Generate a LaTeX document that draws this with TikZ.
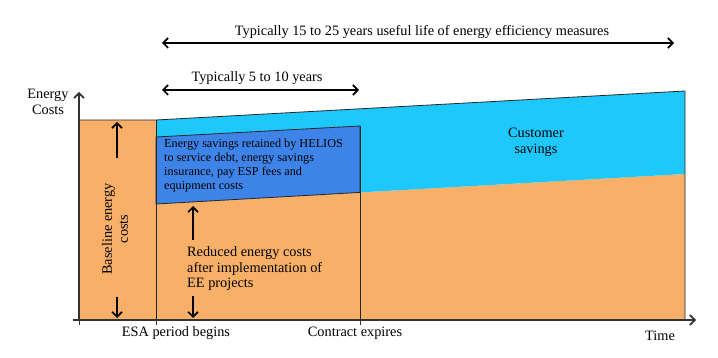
\documentclass[tikz,border=0pt]{standalone}
\usepackage{fontspec}
\setmainfont{Liberation Serif}
\usetikzlibrary{arrows.meta,calc}

\definecolor{baseorange}{RGB}{248,176,104}
\definecolor{custcyan}{RGB}{30,200,252}
\definecolor{retblue}{RGB}{62,132,232}

\begin{document}
\begin{tikzpicture}[
  x=1pt, y=-1pt,
  barb/.tip={Straight Barb[length=5pt, width=10pt, line width=1.6pt]},
  axis/.style={-barb, line width=1.4pt, draw=black!80},
  tick/.style={line width=1pt, draw=black!80},
  edge/.style={line width=0.8pt, draw=black!85},
  span/.style={barb-barb, line width=1.8pt},
  updown/.style={-barb, line width=1.8pt},
  lbl/.style={font=\fontsize{14.3}{16}\selectfont, inner sep=0pt},
  boxtext/.style={font=\fontsize{12.2}{14}\selectfont, inner sep=0pt, align=left}
]
  \useasboundingbox (0,0) rectangle (718,358);

  % corners of the areas
  \coordinate (origin) at (79,320);
  \coordinate (ytop)   at (79,92);
  \coordinate (xleft)  at (73,320);
  \coordinate (xright) at (696,320);
  \coordinate (basetl) at (79,120);
  \coordinate (esatop) at (156,120);
  \coordinate (esabot) at (156,320);
  \coordinate (esaret) at (156,137);
  \coordinate (esared) at (156,204);
  \coordinate (endret) at (360,126);
  \coordinate (endred) at (360,192.4);
  \coordinate (endbot) at (360,320);
  \coordinate (lifetop) at (685,91);
  \coordinate (lifered) at (685,174);
  \coordinate (lifebot) at (685,320);

  % filled areas
  \fill[baseorange] (basetl) rectangle (esabot);
  \fill[baseorange] (esared) -- (lifered) -- (lifebot) -- (esabot) -- cycle;
  \fill[custcyan] (esatop) -- (lifetop) -- (lifered) -- (esared) -- cycle;
  \filldraw[retblue, draw=black!85, line width=0.8pt]
    (esaret) -- (endret) -- (endred) -- (esared) -- cycle;

  % outlines
  \draw[edge] (basetl) -- (esatop) -- (lifetop) -- (lifebot);
  \draw[edge] (esatop) -- (esabot);
  \draw[edge] (endret) -- (endbot);

  % axes and ticks
  \draw[axis] (origin) -- (ytop);
  \draw[axis] (xleft) -- (xright);
  \foreach \tx in {79,156,360}{
    \draw[tick] (\tx,320) -- (\tx,325);
  }

  % time spans
  \coordinate (lifel) at (162,43);
  \coordinate (lifer) at (674,43);
  \coordinate (esal)  at (162,90);
  \coordinate (esar)  at (359,90);
  \draw[span] (lifel) -- (lifer);
  \draw[span] (esal) -- (esar);
  \node[lbl, anchor=base] (lifelbl) at (422,36)
       {Typically 15 to 25 years useful life of energy efficiency measures};
  \node[lbl, anchor=base] (esalbl) at (257,82) {Typically 5 to 10 years};

  % axis labels (base = last line)
  \node[lbl, align=center, anchor=base] (ylbl) at (48,115) {Energy\\Costs};
  \node[lbl, anchor=base] (xlbl) at (660,340) {Time};
  \node[lbl, anchor=base] (esalbl2) at (176,337) {ESA period begins};
  \node[lbl, anchor=base] (endlbl) at (355,337) {Contract expires};

  % baseline costs
  \node[lbl, align=center, rotate=90] (baselbl) at (115,229)
       {Baseline energy\\costs};
  \coordinate (baseup0) at (117,158);
  \coordinate (baseup1) at (117,122);
  \coordinate (basedn0) at (117,297);
  \coordinate (basedn1) at (117,318);
  \draw[updown] (baseup0) -- (baseup1);
  \draw[updown] (basedn0) -- (basedn1);

  % reduced costs
  \node[lbl, align=left, anchor=base west] (redlbl) at (187,288)
       {Reduced energy costs\\after implementation of\\EE projects};
  \coordinate (redup0) at (193,240);
  \coordinate (redup1) at (193,206);
  \coordinate (reddn0) at (193,296);
  \coordinate (reddn1) at (193,318);
  \draw[updown] (redup0) -- (redup1);
  \draw[updown] (reddn0) -- (reddn1);

  % retained savings and customer savings
  \node[boxtext, anchor=base west] (retlbl) at (164,190)
       {Energy savings retained by HELIOS\\to service debt, energy savings\\insurance, pay ESP fees and\\equipment costs};
  \node[lbl, align=center, anchor=base] (custlbl) at (536,154)
       {Customer\\savings};
\end{tikzpicture}
\end{document}
